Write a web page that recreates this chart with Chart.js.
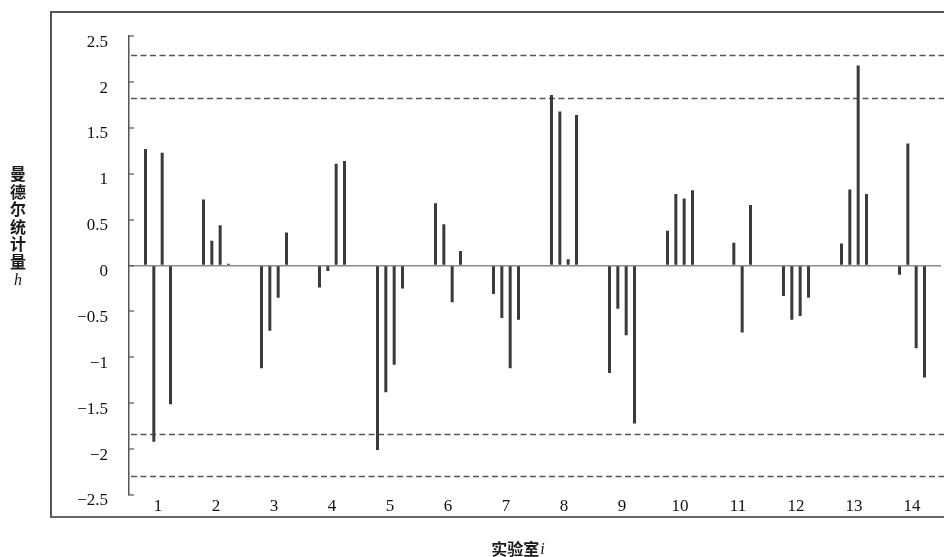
<!DOCTYPE html>
<html>
<head>
<meta charset="utf-8">
<script src="https://cdn.jsdelivr.net/npm/chart.js@4"></script>
<style>
  html, body { margin: 0; padding: 0; background: #fff; overflow: hidden; }
  #wrap { position: relative; width: 944px; height: 557px; }
  #frame {
    position: absolute; left: 50px; top: 11px; width: 1000px; height: 503px;
    border-left: 2px solid #555; border-top: 2px solid #555; border-bottom: 2px solid #666;
  }
  canvas { position: absolute; left: 0; top: 0; }
</style>
</head>
<body>
<div id="wrap">
  <div id="frame"></div>
  <canvas id="c" width="944" height="557"></canvas>
</div>
<script>
// Laboratories on the x axis
const labs = ['1', '2', '3', '4', '5', '6', '7', '8', '9', '10', '11', '12', '13', '14'];

// Mandel h statistic per laboratory, one array per level
const level1 = [1.27, 0.72, -1.12, -0.24, -2.01, 0.68, -0.31, 1.86, -1.17, 0.38, 0.01, -0.33, 0.24, -0.10];
const level2 = [-1.92, 0.27, -0.71, -0.06, -1.38, 0.45, -0.57, 1.68, -0.47, 0.78, 0.25, -0.59, 0.83, 1.33];
const level3 = [1.23, 0.44, -0.35, 1.11, -1.08, -0.40, -1.12, 0.07, -0.76, 0.73, -0.73, -0.55, 2.18, -0.90];
const level4 = [-1.51, 0.02, 0.36, 1.14, -0.25, 0.16, -0.59, 1.64, -1.72, 0.82, 0.66, -0.35, 0.78, -1.22];

// Critical values of h (5 % and 1 %), drawn at + and -
const hCritical = [1.83, 2.29];

// y axis range and step
const yMin = -2.5, yMax = 2.5, yStep = 0.5;

const yTitleChars = ['曼', '德', '尔', '统', '计', '量'];
const yTitleSymbol = 'h';
const xTitleText = '实验室';
const xTitleSymbol = 'i';

const serif = '"Liberation Serif", "DejaVu Serif", serif';
const cjk = '"Noto Sans CJK SC", sans-serif';

const criticalLines = {
  id: 'criticalLines',
  beforeDatasetsDraw(chart) {
    const { ctx, chartArea, scales } = chart;
    ctx.save();
    ctx.strokeStyle = '#555';
    ctx.lineWidth = 1.6;
    ctx.setLineDash([6, 3.5]);
    hCritical.forEach(h => {
      [h, -h].forEach(v => {
        const y = Math.round(scales.y.getPixelForValue(v)) + 0.5;
        ctx.beginPath();
        ctx.moveTo(chartArea.left + 2, y);
        ctx.lineTo(chart.width, y);
        ctx.stroke();
      });
    });
    ctx.restore();
  }
};

const axisTitles = {
  id: 'axisTitles',
  afterDraw(chart) {
    const { ctx } = chart;
    ctx.save();
    ctx.fillStyle = '#1a1a1a';
    ctx.textAlign = 'center';
    ctx.textBaseline = 'middle';
    ctx.font = '600 16px ' + cjk;
    yTitleChars.forEach((ch, i) => ctx.fillText(ch, 18, 174 + i * 17.5));
    ctx.font = 'italic 16px ' + serif;
    ctx.fillText(yTitleSymbol, 18, 281);

    ctx.textAlign = 'left';
    ctx.font = '600 16px ' + cjk;
    const w1 = ctx.measureText(xTitleText).width;
    ctx.font = 'italic 16px ' + serif;
    const w2 = ctx.measureText(xTitleSymbol).width;
    const x0 = 518 - (w1 + w2 + 1) / 2;
    ctx.font = '600 16px ' + cjk;
    ctx.fillText(xTitleText, x0, 549);
    ctx.font = 'italic 16px ' + serif;
    ctx.fillText(xTitleSymbol, x0 + w1 + 1, 550);
    ctx.restore();
  }
};

const barStyle = { backgroundColor: '#3a3a3a', borderWidth: 0 };

new Chart(document.getElementById('c'), {
  type: 'bar',
  data: {
    labels: labs,
    datasets: [
      { label: '1', data: level1, ...barStyle },
      { label: '2', data: level2, ...barStyle },
      { label: '3', data: level3, ...barStyle },
      { label: '4', data: level4, ...barStyle }
    ]
  },
  options: {
    responsive: false,
    animation: false,
    devicePixelRatio: 1,
    categoryPercentage: 0.575,
    barPercentage: 0.36,
    layout: { padding: { top: 33, right: 3, bottom: 0, left: 0 } },
    plugins: {
      legend: { display: false },
      tooltip: { enabled: false },
      title: { display: false }
    },
    scales: {
      x: {
        type: 'category',
        grid: { display: false },
        border: { display: false },
        ticks: {
          padding: -7,
          color: '#111',
          font: { family: serif, size: 17 },
          maxRotation: 0,
          autoSkip: false
        },
        afterFit(s) { s.height = 62; }
      },
      y: {
        min: yMin,
        max: yMax,
        border: { display: true, color: '#555', width: 1.5 },
        grid: {
          drawTicks: true,
          tickLength: -5,
          tickColor: '#555',
          tickWidth: 1.2,
          color: ctx => (ctx.tick && ctx.tick.value === 0 ? '#8a8a8a' : 'rgba(0,0,0,0)'),
          lineWidth: ctx => (ctx.tick && ctx.tick.value === 0 ? 1.5 : 0)
        },
        ticks: {
          stepSize: yStep,
          padding: 26,
          labelOffset: 6,
          color: '#111',
          font: { family: serif, size: 17 },
          callback: v => (v < 0 ? '\u2212' + Math.abs(v) : String(v))
        },
        afterFit(s) { s.width = 129; }
      }
    }
  },
  plugins: [criticalLines, axisTitles]
});
</script>
</body>
</html>
